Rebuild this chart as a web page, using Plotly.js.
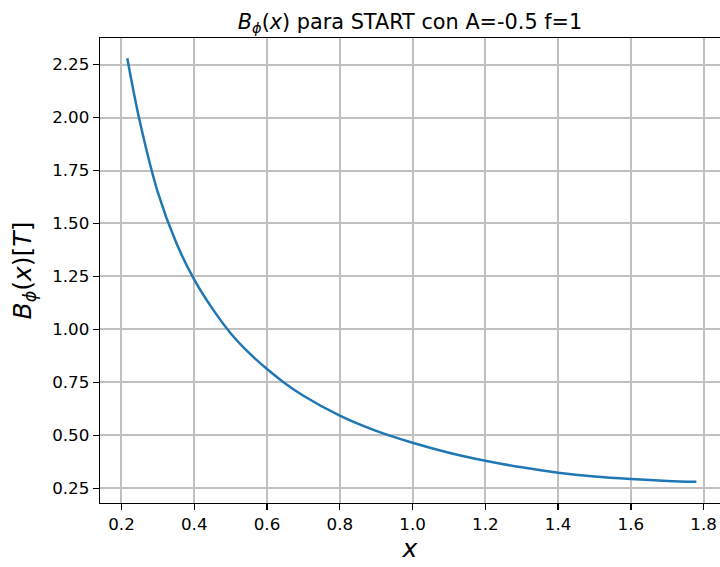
<!DOCTYPE html>
<html>
<head>
<meta charset="utf-8">
<script src="https://cdn.plot.ly/plotly-3.0.1.min.js"></script>
<style>html,body{margin:0;padding:0;background:#fff;}</style>
</head>
<body>
<div id="chart" style="width:720px;height:567px;"></div>
<script>
// Values
const xValues = [0.216, 0.25, 0.30, 0.35, 0.40, 0.45, 0.50, 0.55, 0.60, 0.65, 0.70, 0.80, 0.90, 1.00, 1.10, 1.20, 1.30, 1.40, 1.50, 1.60, 1.70, 1.78];
const bPhi    = [2.28, 1.985, 1.647, 1.411, 1.235, 1.098, 0.982, 0.890, 0.813, 0.745, 0.687, 0.593, 0.521, 0.465, 0.418, 0.380, 0.349, 0.324, 0.306, 0.294, 0.285, 0.281];
const yTicks  = [0.25, 0.50, 0.75, 1.00, 1.25, 1.50, 1.75, 2.00, 2.25];
const xTicks  = [0.2, 0.4, 0.6, 0.8, 1.0, 1.2, 1.4, 1.6, 1.8];

const font = "DejaVu Sans, sans-serif";

Plotly.newPlot('chart', [{
  x: xValues,
  y: bPhi,
  type: 'scatter',
  mode: 'lines',
  line: {color: '#1f77b4', width: 2.5, shape: 'spline', smoothing: 1},
  hoverinfo: 'skip'
}], {
  width: 720, height: 567,
  margin: {l: 100, r: 0, t: 38, b: 64},
  paper_bgcolor: '#fff', plot_bgcolor: '#fff',
  showlegend: false,
  font: {family: font, color: '#000'},
  title: {
    text: "<i>B</i><sub><i>ϕ</i></sub>(<i>x</i>) para START con A=-0.5 f=1",
    font: {family: font, size: 20.8, color: '#000'},
    x: 0.5, xref: 'paper', xanchor: 'center',
    y: 1, yref: 'paper', yanchor: 'bottom', pad: {b: 9}
  },
  xaxis: {
    range: [0.141, 1.845],
    tickvals: xTicks,
    ticktext: xTicks.map(v => v.toFixed(1)),
    ticks: 'outside', ticklen: 6, tickwidth: 1.3, tickcolor: '#000',
    tickfont: {family: font, size: 16.7, color: '#000'},
    showgrid: true, gridcolor: '#c0c0c0', gridwidth: 2,
    showline: true, linecolor: '#000', linewidth: 1.3, mirror: true,
    zeroline: false,
    title: {text: "<i>x</i>", font: {family: font, size: 25, color: '#000'}, standoff: 6}
  },
  yaxis: {
    range: [0.1807, 2.3755],
    tickvals: yTicks,
    ticktext: yTicks.map(v => v.toFixed(2)),
    ticks: 'outside', ticklen: 6, tickwidth: 1.3, tickcolor: '#000',
    tickfont: {family: font, size: 16.7, color: '#000'},
    showgrid: true, gridcolor: '#c0c0c0', gridwidth: 2,
    showline: true, linecolor: '#000', linewidth: 1.3, mirror: false,
    zeroline: false,
    title: {text: "<i>B</i><sub><i>ϕ</i></sub>(<i>x</i>)[<i>T</i>]", font: {family: font, size: 25, color: '#000'}, standoff: 13}
  }
}, {displayModeBar: false, staticPlot: true});
</script>
</body>
</html>
